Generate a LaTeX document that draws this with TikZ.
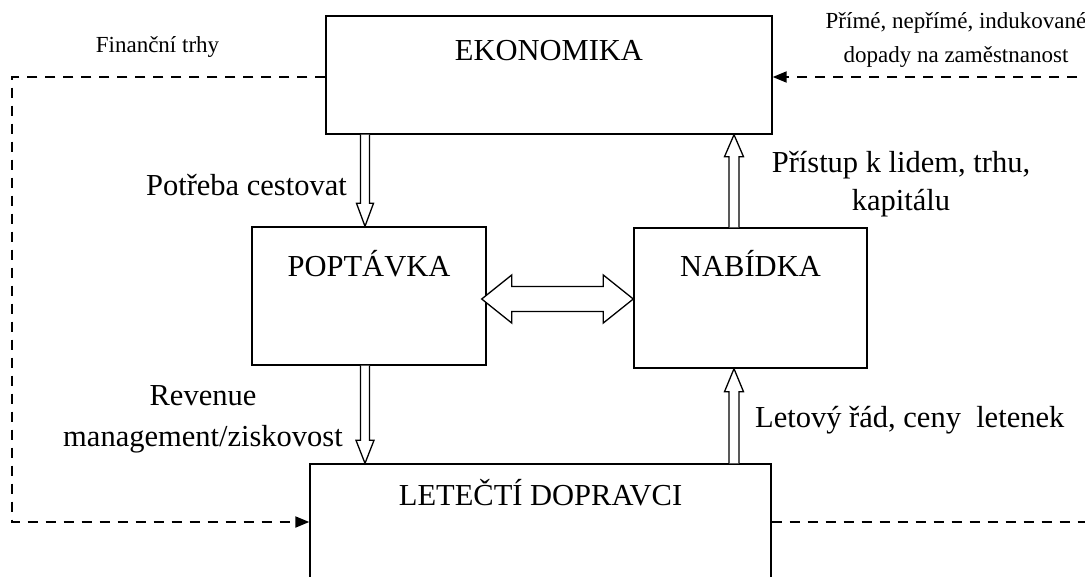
\documentclass[tikz,border=0pt]{standalone}
\usepackage{fontspec}
\setmainfont{Liberation Serif}
\usetikzlibrary{arrows.meta,calc}
\tikzset{
 box/.style={draw, line width=1.4pt, rectangle, inner sep=0pt, font=\fontsize{30.5}{36}\selectfont},
 lbl/.style={inner sep=0pt, font=\fontsize{30.5}{38}\selectfont, align=center},
 lbltwo/.style={inner sep=0pt, font=\fontsize{30.5}{41}\selectfont, align=center},
 small/.style={inner sep=0pt, font=\fontsize{23}{34}\selectfont, align=center},
 dashline/.style={line width=2pt, dash pattern=on 10pt off 8pt},
 tipend/.style={-{Triangle[length=14pt,width=11pt]}},
 hollow/.style={draw, line width=1.3pt, fill=white, line join=miter},
}
\begin{document}
\begin{tikzpicture}[x=1pt,y=-1pt]
\useasboundingbox (0,0) rectangle (1085,576);
\clip (0,0) rectangle (1085,576);
\fill[white] (0,0) rectangle (1085,576);

% helper coordinates
\coordinate (col1) at (365,0);
\coordinate (col2) at (734,0);
\coordinate (row) at (0,299);
\coordinate (tl) at (12,77);
\coordinate (bl) at (12,522);
\coordinate (tr) at (1095,77);
\coordinate (br) at (1095,522);

% boxes
\node[box, minimum width=446pt, minimum height=118pt, text height=20pt, text depth=50pt] (ek) at (549,75) {EKONOMIKA};
\node[box, minimum width=234pt, minimum height=138pt, text height=20pt, text depth=60pt] (pop) at (369,296) {POPTÁVKA};
\node[box, minimum width=233pt, minimum height=140pt, text height=20pt, text depth=64pt] (nab) at (750.5,298) {NABÍDKA};
\node[box, minimum width=461pt, minimum height=156pt, text height=20pt, text depth=94pt] (let) at (540.5,542) {LETEČTÍ DOPRAVCI};

% hollow arrows
\draw[hollow] let \p1=(col1 |- ek.south), \p2=(col1 |- pop.north) in
  (\x1-4.5pt,\y1) -- (\x1-4.5pt,\y2+23pt) -- (\x1-8.5pt,\y2+23pt) -- (\x2,\y2)
  -- (\x1+8.5pt,\y2+23pt) -- (\x1+4.5pt,\y2+23pt) -- (\x1+4.5pt,\y1);
\draw[hollow] let \p1=(col1 |- pop.south), \p2=(col1 |- let.north) in
  (\x1-4.5pt,\y1) -- (\x1-4.5pt,\y2+23pt) -- (\x1-9pt,\y2+23pt) -- (\x2,\y2)
  -- (\x1+9pt,\y2+23pt) -- (\x1+4.5pt,\y2+23pt) -- (\x1+4.5pt,\y1);
\draw[hollow] let \p1=(col2 |- let.north), \p2=(col2 |- nab.south) in
  (\x1-5pt,\y1) -- (\x1-5pt,\y2-23pt) -- (\x1-9.5pt,\y2-23pt) -- (\x2,\y2)
  -- (\x1+9.5pt,\y2-23pt) -- (\x1+5pt,\y2-23pt) -- (\x1+5pt,\y1);
\draw[hollow] let \p1=(col2 |- nab.north), \p2=(col2 |- ek.south) in
  (\x1-5pt,\y1) -- (\x1-5pt,\y2-22pt) -- (\x1-9.5pt,\y2-22pt) -- (\x2,\y2)
  -- (\x1+9.5pt,\y2-22pt) -- (\x1+5pt,\y2-22pt) -- (\x1+5pt,\y1);
\draw[hollow] let \p1=(pop.east |- row), \p2=(nab.west |- row) in
  (\x1-5pt,\y1) -- (\x1+25pt,\y1+24pt) -- (\x1+25pt,\y1+12.5pt) -- (\x2-30pt,\y1+12.5pt)
  -- (\x2-30pt,\y1+24pt) -- (\x2,\y1) -- (\x2-30pt,\y1-24pt) -- (\x2-30pt,\y1-12.5pt)
  -- (\x1+25pt,\y1-12.5pt) -- (\x1+25pt,\y1-24pt) -- cycle;

% dashed connectors
\draw[dashline, tipend] (ek.west |- tl) -- (tl) -- (bl) -- (let.west |- bl);
\draw[dashline, tipend] (tr) -- (ek.east |- tr);
\draw[dashline] (let.east |- br) -- (br);

% labels
\node[lbl, anchor=base east] (t1) at (347,195) {Potřeba cestovat};
\node[lbl, anchor=base] (t2) at (901,210) {Přístup k lidem, trhu,\\kapitálu};
\node[lbltwo, anchor=base] (t3) at (203,446) {Revenue\\management/ziskovost};
\node[lbl, anchor=base west] (t4) at (755,427) {Letový řád, ceny~ letenek};
\node[small, anchor=base] (t5) at (157.5,52) {Finanční trhy};
\node[small, anchor=base] (t6) at (956,62) {Přímé, nepřímé, indukované\\dopady na zaměstnanost};
\end{tikzpicture}
\end{document}
